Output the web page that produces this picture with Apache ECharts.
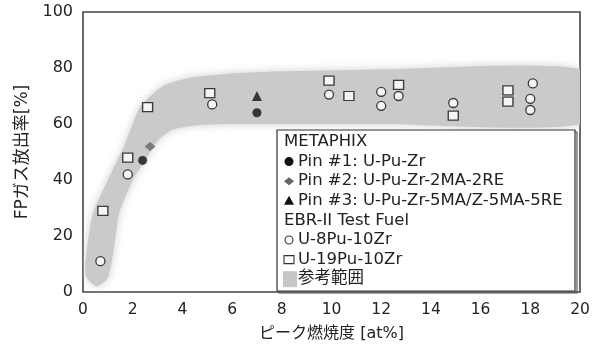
<!DOCTYPE html>
<html>
<head>
<meta charset="utf-8">
<script src="https://cdn.jsdelivr.net/npm/echarts@6/dist/echarts.min.js"></script>
<style>
  html, body { margin: 0; padding: 0; background: #ffffff; }
  #chart { width: 607px; height: 347px; }
</style>
</head>
<body>
<div id="chart"></div>
<script>
// Peak burnup [at%] vs FP gas release [%]

// Reference band (参考範囲): upper/left edge, then lower/right edge back
const bandUpper = [[0.1, 6], [0.17, 16], [0.4, 28], [1.0, 40], [1.65, 52], [2.3, 66], [3.2, 73.5], [4.3, 76.5], [6, 78], [8, 78.8], [12, 79.5], [20, 79.5]];
const bandLower = [[20, 60], [12, 60], [6, 60], [4.5, 59.5], [3.6, 58], [3.0, 54], [2.5, 47], [2.0, 40], [1.45, 28], [1.25, 16], [1.0, 5], [0.55, 2]];

// METAPHIX pins
const pin1 = [[2.4, 47], [7.0, 64]];
const pin2 = [[2.7, 52]];
const pin3 = [[7.0, 70]];

// EBR-II test fuel
const fuel8Pu = [[0.7, 11], [1.8, 42], [5.2, 67], [9.9, 70.5], [12.0, 71.5], [12.0, 66.5], [12.7, 70], [14.9, 67.5], [18.1, 74.5], [18.0, 69], [18.0, 65]];
const fuel19Pu = [[0.8, 29], [1.8, 48], [2.6, 66], [5.1, 71], [9.9, 75.5], [10.7, 70], [12.7, 74], [14.9, 63], [17.1, 72], [17.1, 68]];

const xTicks = [0, 2, 4, 6, 8, 10, 12, 14, 16, 18, 20];
const yTicks = [0, 20, 40, 60, 80, 100];

const legendLines = [
  { text: 'METAPHIX', icon: null },
  { text: 'Pin #1: U-Pu-Zr', icon: 'pin1' },
  { text: 'Pin #2: U-Pu-Zr-2MA-2RE', icon: 'pin2' },
  { text: 'Pin #3: U-Pu-Zr-5MA/Z-5MA-5RE', icon: 'pin3' },
  { text: 'EBR-II Test Fuel', icon: null },
  { text: 'U-8Pu-10Zr', icon: 'c8' },
  { text: 'U-19Pu-10Zr', icon: 'c19' },
  { text: '参考範囲', icon: 'band' }
];

const FONT = '"DejaVu Sans", "Noto Sans CJK JP", sans-serif';
const chart = echarts.init(document.getElementById('chart'), null, { renderer: 'canvas' });

const openStyle = { color: '#ffffff', borderColor: '#111', borderWidth: 1.3 };

// Legend drawn as a framed text block
const lx = 277, ly = 130, lw = 298, lh = 161, step = 19.6;
const legendEls = [
  { type: 'rect', shape: { x: lx + 2, y: ly + 2, width: lw, height: lh }, style: { fill: 'none', stroke: '#555', lineWidth: 1.2 } },
  { type: 'rect', shape: { x: lx, y: ly, width: lw, height: lh }, style: { fill: '#fff', stroke: '#333', lineWidth: 1.2 } }
];
legendLines.forEach((l, i) => {
  const cy = ly + 12 + i * step;
  const tx = l.icon ? lx + 21 : lx + 7;
  legendEls.push({ type: 'text', x: tx, y: cy, style: { text: l.text, font: '16.5px ' + FONT, fill: '#222', verticalAlign: 'middle' } });
  const ix = lx + 12;
  if (l.icon === 'pin1') legendEls.push({ type: 'circle', shape: { cx: ix, cy: cy, r: 4.5 }, style: { fill: '#111' } });
  if (l.icon === 'pin2') legendEls.push({ type: 'polygon', shape: { points: [[ix - 5, cy], [ix, cy - 4], [ix + 5, cy], [ix, cy + 4]] }, style: { fill: '#666' } });
  if (l.icon === 'pin3') legendEls.push({ type: 'polygon', shape: { points: [[ix - 5, cy + 4], [ix, cy - 5], [ix + 5, cy + 4]] }, style: { fill: '#111' } });
  if (l.icon === 'c8') legendEls.push({ type: 'circle', shape: { cx: ix, cy: cy, r: 4 }, style: { fill: '#fff', stroke: '#333', lineWidth: 1.1 } });
  if (l.icon === 'c19') legendEls.push({ type: 'rect', shape: { x: ix - 5, y: cy - 4, width: 10, height: 8 }, style: { fill: '#fff', stroke: '#333', lineWidth: 1.1 } });
  if (l.icon === 'band') legendEls.push({ type: 'rect', shape: { x: ix - 6, y: cy - 8, width: 14, height: 16 }, style: { fill: '#c6c6c6' } });
});

chart.setOption({
  animation: false,
  backgroundColor: '#ffffff',
  grid: { left: 83, right: 27, top: 12, bottom: 50, show: true, borderColor: '#444', borderWidth: 1.6, backgroundColor: 'transparent' },
  xAxis: {
    type: 'value', min: 0, max: 20, interval: 2,
    name: 'ピーク燃焼度 [at%]', nameLocation: 'middle', nameGap: 34,
    nameTextStyle: { fontFamily: FONT, fontSize: 16, color: '#222' },
    axisLine: { show: false }, axisTick: { show: false }, splitLine: { show: false },
    axisLabel: { fontFamily: FONT, fontSize: 15.5, color: '#222', margin: 10,
      formatter: v => xTicks.includes(v) ? String(v) : '' }
  },
  yAxis: {
    type: 'value', min: 0, max: 100, interval: 20,
    name: 'FPガス放出率[%]', nameLocation: 'middle', nameGap: 52, nameRotate: 90,
    nameTextStyle: { fontFamily: FONT, fontSize: 17, color: '#222' },
    axisLine: { show: false }, axisTick: { show: false }, splitLine: { show: false },
    axisLabel: { fontFamily: FONT, fontSize: 16, color: '#222', margin: 10,
      formatter: v => yTicks.includes(v) ? String(v) : '' }
  },
  series: [
    {
      name: '参考範囲', type: 'custom', data: [0], z: 1, silent: true, clip: true,
      renderItem: (params, api) => {
        const pts = bandUpper.concat(bandLower).map(p => api.coord(p));
        return { type: 'polygon', shape: { points: pts, smooth: 0.2 },
          style: { fill: '#cacaca', shadowBlur: 10, shadowColor: '#d0d0d0' } };
      }
    },
    { name: 'U-8Pu-10Zr', type: 'scatter', data: fuel8Pu, symbol: 'circle', symbolSize: 9, itemStyle: openStyle, z: 3 },
    { name: 'U-19Pu-10Zr', type: 'scatter', data: fuel19Pu, symbol: 'rect', symbolSize: [10, 9], itemStyle: openStyle, z: 3 },
    { name: 'Pin #1', type: 'scatter', data: pin1, symbol: 'circle', symbolSize: 9, itemStyle: { color: '#111' }, z: 4 },
    { name: 'Pin #2', type: 'scatter', data: pin2, symbol: 'diamond', symbolSize: [11, 9], itemStyle: { color: '#666' }, z: 4 },
    { name: 'Pin #3', type: 'scatter', data: pin3, symbol: 'triangle', symbolSize: [10, 10], itemStyle: { color: '#111' }, z: 4 }
  ],
  graphic: legendEls.map(e => Object.assign({ z: 100 }, e))
});
</script>
</body>
</html>
